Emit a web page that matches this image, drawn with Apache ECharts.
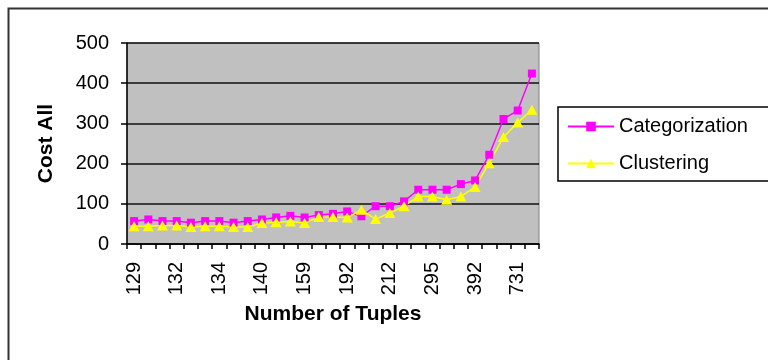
<!DOCTYPE html>
<html>
<head>
<meta charset="utf-8">
<script src="https://cdn.jsdelivr.net/npm/echarts@6/dist/echarts.min.js"></script>
<style>
  html, body { margin: 0; padding: 0; background: #fff; }
  #chart { width: 768px; height: 360px; }
</style>
</head>
<body>
<div id="chart"></div>
<script>
// Number of tuples per query (every third one is labelled on the axis)
const tuples = [129, 130, 131, 132, 133, 133.5, 134, 136, 138, 140, 146, 152, 159, 170, 181,
                192, 198, 205, 212, 240, 268, 295, 325, 358, 392, 505, 618, 731, 850];
const categorization = [57, 61, 57, 57, 53, 57, 57, 53, 57, 61, 66, 70, 66, 72, 75,
                        81, 69, 94, 94, 106, 135, 135, 135, 149, 158, 222, 311, 332, 424];
const clustering = [44, 44, 46, 46, 42, 44, 44, 42, 42, 52, 54, 56, 52, 67, 67,
                    66, 85, 62, 77, 94, 118, 118, 110, 118, 142, 201, 266, 302, 334];
const yTicks = { min: 0, max: 500, interval: 100 };

const font = 'Arial, "Liberation Sans", sans-serif';
const chart = echarts.init(document.getElementById('chart'));

chart.setOption({
  animation: false,
  backgroundColor: '#ffffff',
  textStyle: { fontFamily: font },
  grid: { left: 127, right: 229, top: 43, bottom: 116, show: true,
          backgroundColor: '#c0c0c0', borderColor: '#808080', borderWidth: 1 },
  graphic: [{
    type: 'rect', left: 6, top: 6,
    shape: { width: 900, height: 500 },
    style: { fill: 'none', stroke: '#333', lineWidth: 2 },
    silent: true, z: -1
  }],
  legend: {
    orient: 'vertical',
    left: 558, top: 107,
    padding: [9, 60, 7, 9],
    itemGap: 16,
    itemWidth: 46, itemHeight: 12,
    backgroundColor: '#ffffff',
    borderColor: '#000', borderWidth: 1.5, borderRadius: 0,
    textStyle: { fontSize: 20, color: '#000', fontFamily: font, lineHeight: 21 },
    data: ['Categorization', 'Clustering']
  },
  xAxis: {
    type: 'category',
    data: tuples.map(String),
    boundaryGap: true,
    name: 'Number of Tuples',
    nameLocation: 'middle',
    nameGap: 58,
    nameTextStyle: { fontSize: 21, fontWeight: 'bold', color: '#000', fontFamily: font,
                     verticalAlign: 'top' },
    axisLine: { lineStyle: { color: '#000', width: 1.5 } },
    axisTick: { show: true, interval: 0, length: 5, lineStyle: { color: '#000', width: 1.5 } },
    axisLabel: { interval: 2, rotate: 90, margin: 18, fontSize: 20, color: '#000', fontFamily: font },
    splitLine: { show: false }
  },
  yAxis: {
    type: 'value',
    min: yTicks.min, max: yTicks.max, interval: yTicks.interval,
    name: 'Cost All',
    nameLocation: 'middle',
    nameGap: 70,
    nameTextStyle: { fontSize: 21, fontWeight: 'bold', color: '#000', fontFamily: font },
    axisLine: { show: true, lineStyle: { color: '#000', width: 1.5 } },
    axisTick: { show: true, length: 6, lineStyle: { color: '#000', width: 1.5 } },
    axisLabel: { margin: 18, fontSize: 20, color: '#000', fontFamily: font },
    splitLine: { show: true, lineStyle: { color: '#111', width: 1.5 } }
  },
  series: [
    {
      name: 'Categorization', type: 'line', data: categorization,
      symbol: 'rect', symbolSize: 8, showAllSymbol: true,
      lineStyle: { color: '#ff00ff', width: 1.5 },
      itemStyle: { color: '#ff00ff' }
    },
    {
      name: 'Clustering', type: 'line', data: clustering,
      symbol: 'triangle', symbolSize: [11, 10], showAllSymbol: true,
      lineStyle: { color: '#ffff00', width: 1.5 },
      itemStyle: { color: '#ffff00' }
    }
  ]
});
</script>
</body>
</html>
